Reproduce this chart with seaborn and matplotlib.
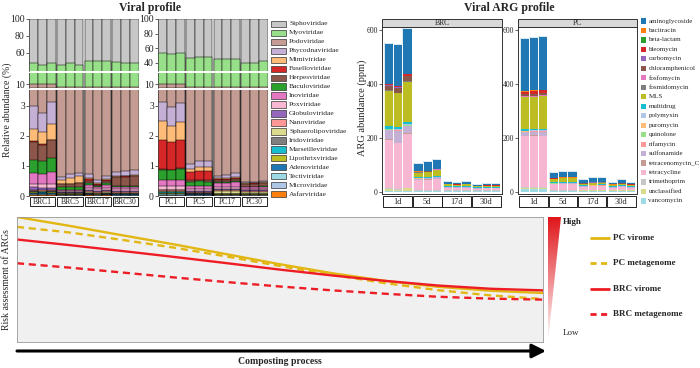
import numpy as np
import pandas as pd
import matplotlib
matplotlib.use("Agg")
import matplotlib.pyplot as plt
import seaborn as sns
from matplotlib.patches import Rectangle, Polygon
from matplotlib.colors import LinearSegmentedColormap

# ---------------- Viral profile data (relative abundance, %) ----------------
viral_groups_brc = ["BRC1", "BRC5", "BRC17", "BRC30"]
viral_groups_pc = ["PC1", "PC5", "PC17", "PC30"]
# 24 samples: BRC1 x3, BRC5 x3, BRC17 x3, BRC30 x3, PC1 x3, PC5 x3, PC17 x3, PC30 x3
Siphoviridae = [53, 54.5, 53, 54.5, 53, 54.5, 50, 50, 50, 51, 52, 52,
                47, 48, 47, 54, 52.5, 52.5, 55, 54.5, 54.5, 59.5, 59.5, 58]
Myoviridae = [36.5, 35.2, 36.5, 40.5, 42, 40.5, 45, 45, 45, 44, 43, 43,
              42, 41, 42, 41, 42.5, 42.5, 40, 40.5, 40.5, 35.5, 35.5, 37]
Podoviridae = [7.5, 7.5, 7.4, 4.4, 4.3, 4.2, 4.3, 4.5, 4.35, 4.2, 4.2, 4.15,
               7.9, 8.0, 7.9, 4.0, 3.9, 3.9, 4.35, 4.3, 4.25, 4.55, 4.55, 4.55]
Phycodnaviridae = [.78, .65, .72, .10, .12, .12, .14, .08, .10, .14, .16, .17,
                   .63, .63, .63, .17, .20, .22, .08, .10, .12, .04, .04, .05]
Mimiviridae = [.40, .41, .53, .12, .20, .22, .04, .03, .04, .02, .02, .02,
               .63, .53, .59, .10, .12, .12, .03, .03, .04, .01, .01, .01]
Fuselloviridae = [.02, .02, .02, .02, .02, .02, .04, .03, .04, .02, .02, .02,
                  .98, .92, .95, .28, .30, .32, .04, .04, .05, .02, .02, .02]
Herpesviridae = [.60, .55, .58, .10, .10, .12, .08, .04, .06, .28, .30, .32,
                 .02, .02, .02, .05, .05, .05, .04, .04, .05, .08, .09, .10]
Baculoviridae = [.44, .42, .48, .08, .08, .09, .05, .04, .05, .04, .04, .04,
                 .35, .33, .37, .15, .15, .15, .04, .04, .05, .02, .02, .02]
Inoviridae = [.36, .33, .40, .05, .05, .05, .12, .08, .12, .08, .08, .08,
              .19, .20, .20, .10, .12, .10, .15, .15, .16, .06, .06, .07]
Poxviridae = [.11, .12, .12, .03, .03, .03, .06, .05, .06, .05, .05, .05,
              .12, .11, .13, .05, .05, .05, .06, .06, .06, .04, .04, .04]
Globuloviridae = [.10, .09, .08, .02, .02, .02, .03, .03, .03, .03, .03, .03,
                  .02, .02, .02, .03, .03, .03, .02, .02, .02, .02, .02, .02]
Nanoviridae = [.03, .03, .03, .02, .02, .02, .05, .04, .05, .04, .04, .04,
               .03, .03, .03, .03, .03, .03, .03, .03, .03, .05, .05, .05]
Sphaerolipoviridae = [.02, .02, .02, .02, .02, .02, .03, .03, .03, .02, .02, .02,
                      .02, .02, .02, .02, .02, .02, .10, .10, .10, .05, .05, .05]
Iridoviridae = [.01, .01, .01, .01, .01, .01, .01, .01, .01, .01, .01, .01,
                .01, .01, .01, .01, .01, .01, .01, .01, .01, .01, .01, .01]
Marseilleviridae = [.02, .02, .02, .01, .01, .01, .01, .01, .01, .01, .01, .01,
                    .04, .04, .04, .02, .02, .02, .01, .01, .01, .01, .01, .01]
Lipothrixviridae = [.01, .01, .01, .01, .01, .01, .01, .01, .01, .01, .01, .01,
                    .01, .01, .01, .01, .01, .01, .02, .02, .02, .01, .01, .01]
Adenoviridae = [.06, .05, .06, .01, .01, .01, .02, .01, .02, .02, .02, .02,
                .03, .03, .03, .02, .02, .02, .01, .01, .01, .01, .01, .01]
Tectiviridae = [.01, .01, .01, .01, .01, .01, .01, .01, .01, .01, .01, .01,
                .02, .02, .02, .01, .01, .01, .01, .01, .01, .01, .01, .01]
Microviridae = [.02, .02, .02, .01, .01, .01, .01, .01, .01, .01, .01, .01,
                .02, .02, .02, .01, .01, .01, .01, .01, .01, .01, .01, .01]
Asfarviridae = [.02, .02, .02, .01, .01, .01, .02, .01, .02, .01, .01, .01,
                .01, .01, .01, .01, .01, .01, .01, .01, .01, .01, .01, .01]

viral_families = ["Siphoviridae", "Myoviridae", "Podoviridae", "Phycodnaviridae",
                  "Mimiviridae", "Fuselloviridae", "Herpesviridae", "Baculoviridae",
                  "Inoviridae", "Poxviridae", "Globuloviridae", "Nanoviridae",
                  "Sphaerolipoviridae", "Iridoviridae", "Marseilleviridae",
                  "Lipothrixviridae", "Adenoviridae", "Tectiviridae", "Microviridae",
                  "Asfarviridae"]
viral_colors = ["#c7c7c7", "#98df8a", "#c49c94", "#c5b0d5", "#ffbb78", "#d62728",
                "#8c564b", "#2ca02c", "#e377c2", "#f7b6d2", "#9467bd", "#ff9896",
                "#dbdb8d", "#7f7f7f", "#17becf", "#bcbd22", "#1f77b4", "#9edae5",
                "#aec7e8", "#ff7f0e"]

# ---------------- Viral ARG profile data (ppm) ----------------
arg_groups = ["1d", "5d", "17d", "30d"]
aminoglycoside = [152, 154, 170, 30, 34, 34, 11.5, 8.5, 9.5, 5, 7, 7,
                  196, 198, 199, 22, 24, 24, 14, 17, 19, 8, 14, 9]
bacitracin = [1, 1, 1, .5, .5, .5, .3, .3, .3, .3, .3, .3,
              2, 2, 2, .5, .5, .5, .7, .7, .7, .7, .7, .7]
beta_lactam = [1, 1, 1, .3, .3, .3, .2, .2, .2, .2, .2, .2,
               1, 1, 1, .5, .5, .5, .3, .3, .3, .3, .3, .3]
bleomycin = [4, 4, 5, 1, 1, 1, .8, .8, .8, .6, .6, .6,
             8, 10, 8, 1.8, 1.8, 1.8, .8, .8, .8, .8, .8, .8]
carbomycin = [1, 1, 1, .2, .2, .2, .2, .2, .2, .1, .1, .1,
              1, 1, 1, .2, .2, .2, .2, .2, .2, .2, .2, .2]
chloramphenicol = [17, 18, 19, 1.4, 1.4, 1.4, .6, .6, .6, .4, .4, .4,
                   8, 8, 9, .4, .4, .4, .6, .6, .6, .6, .6, .6]
fosfomycin = [1, 1, 1, .3, .3, .3, .2, .2, .2, .2, .2, .2,
              1, 1, 1, .3, .3, .3, .2, .2, .2, .2, .2, .2]
fosmidomycin = [1, 1, 1, .3, .3, .3, .2, .2, .2, .2, .2, .2,
                1, 1, 1, .3, .3, .3, .2, .2, .2, .2, .2, .2]
MLS = [132, 125, 150, 17, 18, 22, 5, 4, 5, 3, 4, 4,
       120, 118, 122, 12, 12, 12, 6, 7, 7, 4, 6, 4]
multidrug = [8, 9, 9, 4, 4, 4, 3, 3, 3, 2.5, 2.5, 2.5,
             5, 5, 5, 3, 3, 3, 2.5, 2.5, 2.5, 2.5, 2.5, 2.5]
polymyxin = [2, 2, 2, 1, 1, 1, .8, .8, .8, .6, .6, .6,
             2, 2, 2, 1, 1, 1, .3, .3, .3, .3, .3, .3]
puromycin = [1, 1, 1, .5, .5, .5, .3, .3, .3, .3, .3, .3,
             1, 1, 1, .5, .5, .5, .4, .4, .4, .4, .4, .4]
quinolone = [1, 1, 1, .5, .5, .5, .3, .3, .3, .3, .3, .3,
             1, 1, 1, .5, .5, .5, .4, .4, .4, .4, .4, .4]
rifamycin = [1, 1, 1, .5, .5, .5, .3, .3, .3, .3, .3, .3,
             1, 1, 1, .5, .5, .5, .4, .4, .4, .4, .4, .4]
sulfonamide = [35, 45, 28, 4, 4, 5, 2, 2, 2, 1.7, 1.7, 1.7,
               14, 14, 15, 2, 2, 2, 1.7, 1.7, 1.7, 1.7, 1.7, 1.7]
tetracenomycin_C = [1, 1, 1, .5, .5, .5, .3, .3, .3, .3, .3, .3,
                    1, 1, 1, .5, .5, .5, .3, .3, .3, .3, .3, .3]
tetracycline = [180, 170, 200, 38, 40, 43, 10, 9, 10, 6, 7, 7,
                188, 190, 190, 22, 24, 24, 12, 14, 15, 8, 12, 9]
trimethoprim = [2, 2, 2, 1, 1, 1, 1, 1, 1, 1, 1, 1,
                3, 3, 3, 1, 1, 1, 1, 1, 1, 1, 1, 1]
unclassified = [8, 6, 10, 3, 3, 3, 2, 2, 2, 2, 2, 2,
                6, 6, 5, 2, 2, 2, 2, 2, 2, 2, 2, 2]
vancomycin = [4, 3, 4, 2, 2, 2, 3, 3, 3, 3, 3, 3,
              10, 10, 10, 3, 3, 3, 4, 4, 4, 4, 4, 4]

arg_classes = ["aminoglycoside", "bacitracin", "beta-lactam", "bleomycin", "carbomycin",
               "chloramphenicol", "fosfomycin", "fosmidomycin", "MLS", "multidrug",
               "polymyxin", "puromycin", "quinolone", "rifamycin", "sulfonamide",
               "tetracenomycin_C", "tetracycline", "trimethoprim", "unclassified",
               "vancomycin"]
arg_colors = ["#1f77b4", "#ff7f0e", "#2ca02c", "#d62728", "#9467bd", "#8c564b",
              "#e377c2", "#7f7f7f", "#bcbd22", "#17becf", "#aec7e8", "#ffbb78",
              "#98df8a", "#ff9896", "#c5b0d5", "#c49c94", "#f7b6d2", "#c7c7c7",
              "#dbdb8d", "#9edae5"]

# ---------------- Risk assessment curves ----------------
process_stage = [0, 1, 2, 3, 4, 5, 6, 7, 8, 9, 10]
pc_virome = [100, 92.9, 85.4, 78.0, 70.1, 62.2, 55.0, 48.9, 44.2, 41.0, 39.2]
pc_metagenome = [92.1, 87.6, 81.7, 75.4, 68.3, 60.8, 53.7, 47.1, 41.5, 37.3, 34.4]
brc_virome = [82.0, 77.5, 72.8, 68.0, 63.0, 57.9, 53.2, 48.9, 45.2, 42.6, 41.3]
brc_metagenome = [63.0, 59.5, 55.6, 51.6, 47.9, 44.4, 41.3, 38.6, 36.2, 34.7, 33.9]
risk_series = ["PC virome", "PC metagenome", "BRC virome", "BRC metagenome"]
risk_colors = ["#E2B714", "#E2B714", "#EE1C25", "#EE1C25"]

# ---------------- Figure ----------------
sns.set_theme(style="ticks")
plt.rcParams["font.family"] = ["Liberation Serif", "DejaVu Serif"]
plt.rcParams["axes.linewidth"] = 0.5

W, H = 700, 368
fig = plt.figure(figsize=(W / 100, H / 100), dpi=100)
fig.patch.set_facecolor("white")


def pax(x0, y0, x1, y1):
    return fig.add_axes([x0 / W, 1 - y1 / H, (x1 - x0) / W, (y1 - y0) / H])


def positions(n_groups, n_rep, gap):
    return np.array([g * (n_rep + gap) + r for g in range(n_groups) for r in range(n_rep)], float)


def stacked(ax, x, layers, colors, edge, lw):
    cum = np.cumsum(np.array(layers, float), axis=0)
    for k in range(len(layers) - 1, -1, -1):
        sns.barplot(x=x, y=cum[k], color=colors[k], native_scale=True, width=1.0,
                    edgecolor=edge, linewidth=lw, errorbar=None, saturation=1,
                    orient="x", ax=ax)


viral = dict(zip(viral_families, [Siphoviridae, Myoviridae, Podoviridae, Phycodnaviridae,
                                  Mimiviridae, Fuselloviridae, Herpesviridae, Baculoviridae,
                                  Inoviridae, Poxviridae, Globuloviridae, Nanoviridae,
                                  Sphaerolipoviridae, Iridoviridae, Marseilleviridae,
                                  Lipothrixviridae, Adenoviridae, Tectiviridae,
                                  Microviridae, Asfarviridae]))
vcol = dict(zip(viral_families, viral_colors))
stack_order = viral_families[::-1]

vx = positions(4, 3, 0.15)
viral_panels = [
    (slice(0, 12), viral_groups_brc, 29, 139, (38, 100), [60, 80, 100]),
    (slice(12, 24), viral_groups_pc, 158, 268, (29, 100), [40, 60, 80, 100]),
]
for sl, groups, x0, x1, toplim, topticks in viral_panels:
    segs = [(19, 71, toplim, topticks), (73, 88, (3.5, 29), [10]),
            (90, 196, (0, 3.53), [0, 1, 2, 3])]
    for si, (ya, yb, lim, ticks) in enumerate(segs):
        ax = pax(x0, ya, x1, yb)
        layers = [np.array(viral[f])[sl] for f in stack_order]
        stacked(ax, vx, layers, [vcol[f] for f in stack_order], "black", 0.35)
        ax.set_ylim(*lim)
        ax.set_xlim(-0.55, vx[-1] + 0.55)
        ax.set_xticks([])
        ax.set_yticks(ticks)
        ax.set_yticklabels([str(t) for t in ticks])
        ax.tick_params(axis="y", labelsize=7, length=2, width=0.5, pad=1, colors="#222222")
        ax.set_xlabel("")
        ax.set_ylabel("")
        for s in ["top", "right", "bottom"]:
            ax.spines[s].set_visible(False)
        ax.spines["left"].set_color("#444444")
        if si == 2:
            tr = ax.get_xaxis_transform()
            for g, name in enumerate(groups):
                a = vx[g * 3] - 0.5 + 0.05
                b = vx[g * 3 + 2] + 0.5 - 0.05
                ax.add_patch(Rectangle((a, -0.094), b - a, 0.084, transform=tr,
                                       facecolor="white", edgecolor="black", lw=0.6,
                                       clip_on=False))
                ax.text((a + b) / 2, -0.052, name, transform=tr, ha="center",
                        va="center", fontsize=5.5)

# ARG panels
arg = dict(zip(arg_classes, [aminoglycoside, bacitracin, beta_lactam, bleomycin, carbomycin,
                             chloramphenicol, fosfomycin, fosmidomycin, MLS, multidrug,
                             polymyxin, puromycin, quinolone, rifamycin, sulfonamide,
                             tetracenomycin_C, tetracycline, trimethoprim, unclassified,
                             vancomycin]))
acol = dict(zip(arg_classes, arg_colors))
arg_order = arg_classes[::-1]
axp = positions(4, 3, 0.2)
for sl, name, x0, x1 in [(slice(0, 12), "BRC", 382, 502), (slice(12, 24), "PC", 518, 637)]:
    ax = pax(x0, 27, x1, 194)
    layers = [np.array(arg[c])[sl] for c in arg_order]
    stacked(ax, axp, layers, [acol[c] for c in arg_order], "none", 0)
    total = np.sum(np.array(layers, float), axis=0)
    sns.barplot(x=axp, y=total, color="white", fill=False, native_scale=True, width=1.0,
                linewidth=0.6, errorbar=None, orient="x", ax=ax)
    ax.set_ylim(-7.4, 611)
    ax.set_xlim(-0.7, axp[-1] + 0.7)
    ax.set_xticks([])
    ax.set_yticks([0, 200, 400, 600])
    ax.set_yticklabels(["0", "200", "400", "600"])
    ax.tick_params(axis="y", labelsize=5.5, length=2, width=0.5, pad=1, colors="#222222")
    ax.set_xlabel("")
    ax.set_ylabel("")
    for s in ax.spines.values():
        s.set_color("#333333")
        s.set_linewidth(0.7)
    hh = 167.0
    ax.add_patch(Rectangle((0, 1), 1, 8 / hh, transform=ax.transAxes, facecolor="#D9D9D9",
                           edgecolor="#333333", lw=0.7, clip_on=False))
    ax.text(0.5, 1 + 4 / hh, name, transform=ax.transAxes, ha="center", va="center",
            fontsize=5.5)
    tr = ax.get_xaxis_transform()
    for g, lab in enumerate(arg_groups):
        a = axp[g * 3] - 0.5 - 0.05
        b = axp[g * 3 + 2] + 0.5 + 0.05
        ax.add_patch(Rectangle((a, -13 / hh), b - a, 11 / hh, transform=tr,
                               facecolor="white", edgecolor="black", lw=0.6, clip_on=False))
        ax.text((a + b) / 2, -7.5 / hh, lab, transform=tr, ha="center", va="center",
                fontsize=6)

# Risk panel
ax3 = pax(17, 217, 543, 342)
ax3.set_facecolor("#F0F0F0")
risk_df = pd.DataFrame({
    "stage": process_stage * 4,
    "risk": pc_virome + pc_metagenome + brc_virome + brc_metagenome,
    "series": sum([[s] * len(process_stage) for s in risk_series], []),
})
sns.lineplot(data=risk_df, x="stage", y="risk", hue="series", style="series",
             hue_order=risk_series, style_order=risk_series,
             palette=dict(zip(risk_series, risk_colors)),
             dashes={"PC virome": "", "PC metagenome": (3, 2),
                     "BRC virome": "", "BRC metagenome": (3, 2)},
             linewidth=1.7, errorbar=None, legend=False, ax=ax3)
ax3.set_xlim(0, 10)
ax3.set_ylim(0, 100)
ax3.set_xticks([])
ax3.set_yticks([])
ax3.set_xlabel("")
ax3.set_ylabel("")
for s in ax3.spines.values():
    s.set_color("#999999")
    s.set_linewidth(0.6)

# Overlay for annotations
ov = fig.add_axes([0, 0, 1, 1], zorder=10)
ov.patch.set_alpha(0)

cmap = LinearSegmentedColormap.from_list("rw", ["#FFFFFF", "#E0161B"])
grad = np.linspace(1, 0, 200).reshape(-1, 1)
im = ov.imshow(grad, extent=(548, 561, 342, 217), cmap=cmap, aspect="auto",
               origin="upper", vmin=0, vmax=1)
tri = Polygon([(548, 217), (561, 217), (548, 342)], closed=True, facecolor="none",
              edgecolor="none", transform=ov.transData)
ov.add_patch(tri)
im.set_clip_path(tri)
ov.set_xlim(0, W)
ov.set_ylim(H, 0)
ov.axis("off")

ov.text(150, 8, "Viral profile", ha="center", va="center", fontsize=8.5, fontweight="bold")
ov.text(509, 8, "Viral ARG profile", ha="center", va="center", fontsize=8.5,
        fontweight="bold")
ov.text(7, 110, "Relative abundance (%)", rotation=90, ha="center", va="center", fontsize=7)
ov.text(362, 108, "ARG abundance (ppm)", rotation=90, ha="center", va="center",
        fontsize=7.5)
ov.text(7, 280, "Risk assessment of ARGs", rotation=90, ha="center", va="center",
        fontsize=7)

for i, (f, c) in enumerate(zip(viral_families, viral_colors)):
    y = 24 + i * 8.95
    ov.add_patch(Rectangle((271, y - 3.2), 15, 6.4, facecolor=c, edgecolor="#333333",
                           lw=0.5))
    ov.text(289, y, f, ha="left", va="center", fontsize=5.4)

for i, (a, c) in enumerate(zip(arg_classes, arg_colors)):
    y = 21 + i * 9.47
    ov.add_patch(Rectangle((641, y - 2.6), 5.2, 5.2, facecolor=c, edgecolor="none"))
    ov.text(648.5, y, a, ha="left", va="center", fontsize=5.0)

for i, (s, c) in enumerate(zip(risk_series, risk_colors)):
    y = 238 + i * 25.4
    ls = (0, (2.2, 1.6)) if "metagenome" in s else "-"
    ov.plot([590, 610], [y, y], color=c, lw=2.0, linestyle=ls, solid_capstyle="butt")
    ov.text(613, y, s, ha="left", va="center", fontsize=6.5, fontweight="bold")

ov.text(563, 222, "High", ha="left", va="center", fontsize=6.5, fontweight="bold")
ov.text(563, 333, "Low", ha="left", va="center", fontsize=6.5)

ov.annotate("", xy=(546, 351), xytext=(17, 351),
            arrowprops=dict(arrowstyle="-|>,head_length=0.7,head_width=0.35", lw=2.2,
                            color="black", shrinkA=0, shrinkB=0, mutation_scale=12))
ov.text(280, 361, "Composting process", ha="center", va="center", fontsize=7,
        fontweight="bold")

fig.savefig("out.png", dpi=100, facecolor="white")
